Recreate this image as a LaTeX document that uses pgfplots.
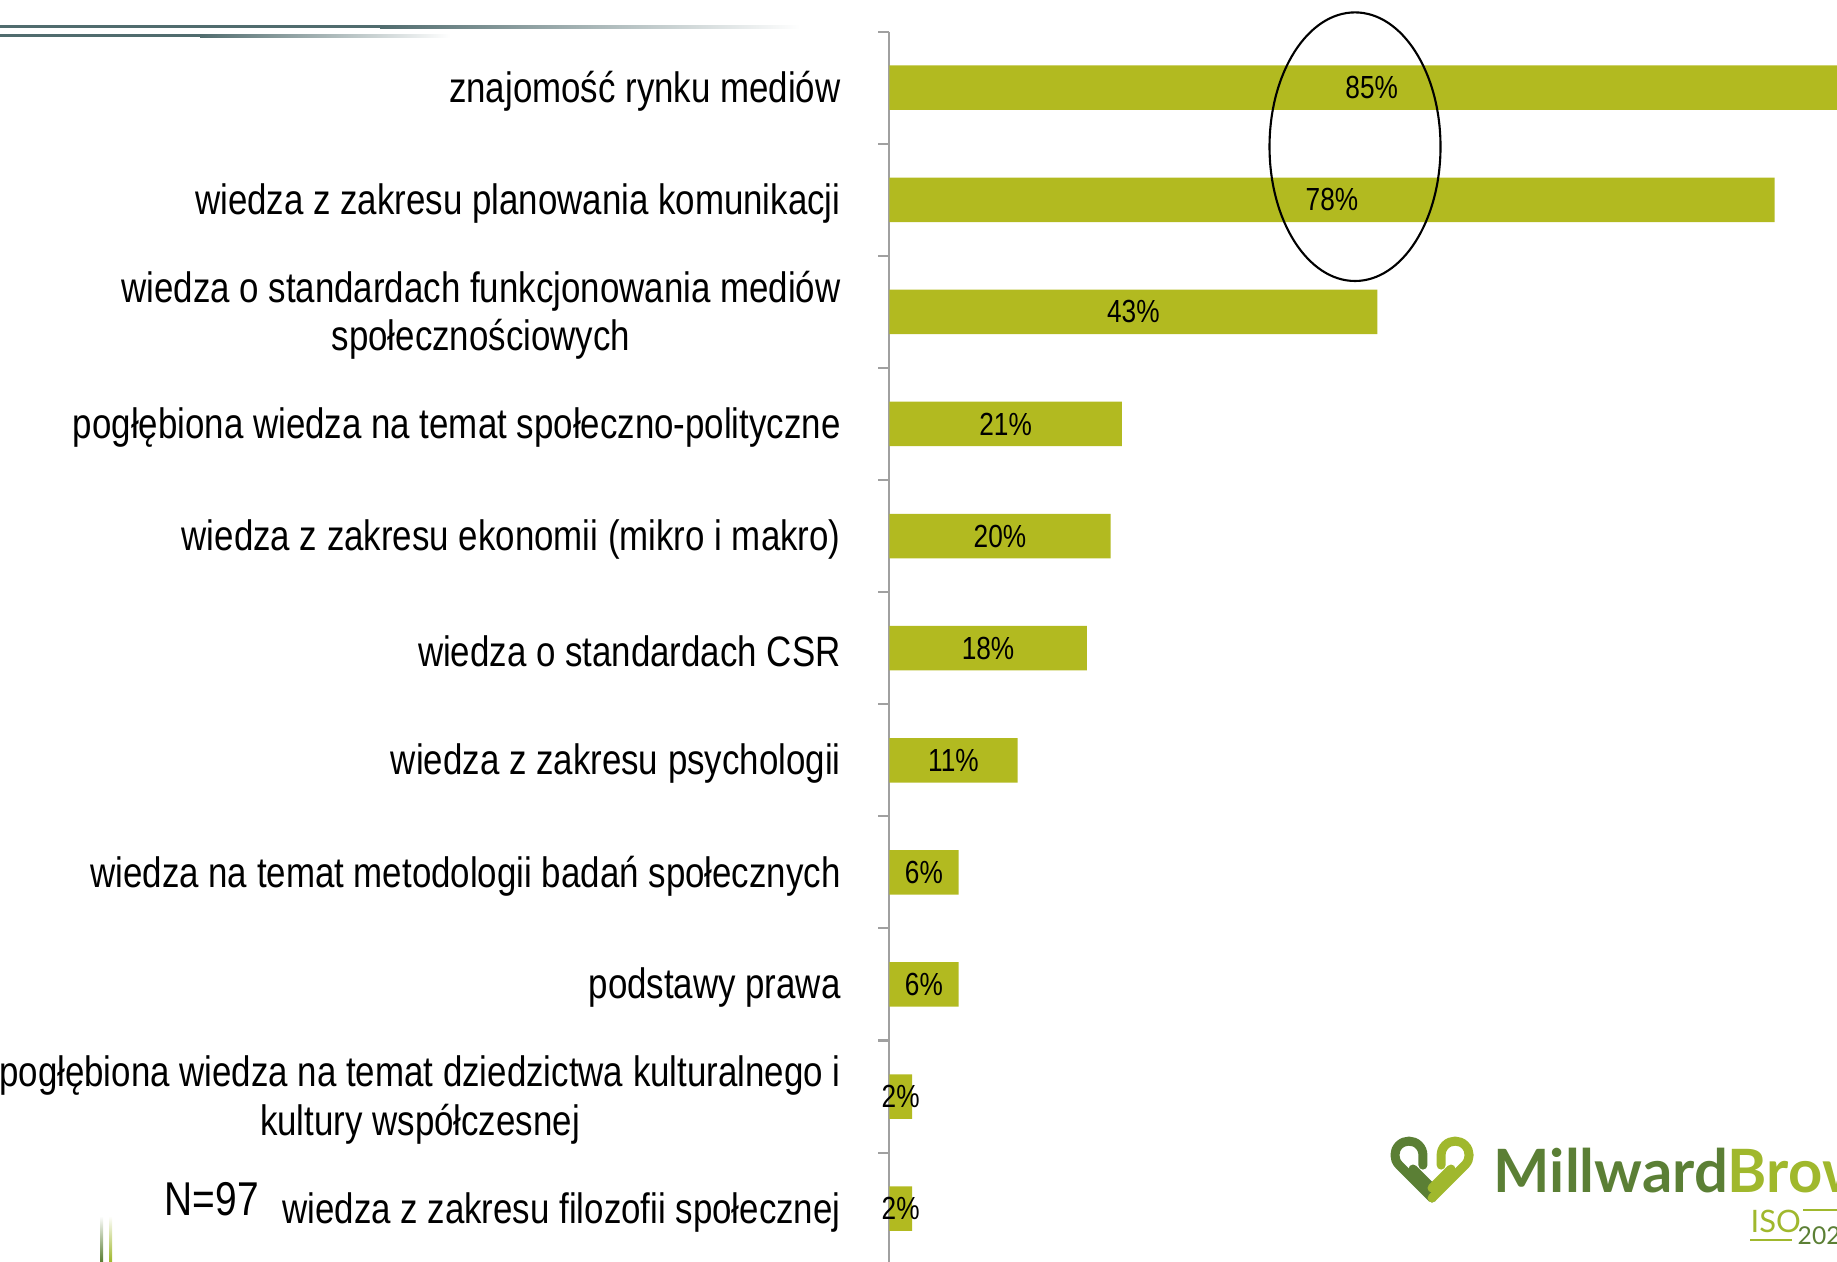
\documentclass[border=0pt]{standalone}
\usepackage{pgfplots}
\usepackage{pgfplotstable}
\pgfplotsset{compat=1.18}
\usepackage{fontspec}
\setmainfont{Liberation Sans}
\IfFontExistsTF{Liberation Sans Narrow}{\newfontfamily\narrowfont{Liberation Sans Narrow}}{\newfontfamily\narrowfont{Liberation Sans}[FakeStretch=0.82]}
\newfontfamily\logofont{Lato}
\definecolor{barcol}{RGB}{178,186,32}
\definecolor{slate}{RGB}{80,108,110}
\definecolor{logodark}{RGB}{91,127,53}
\definecolor{logolight}{RGB}{160,184,45}
\definecolor{axisgray}{RGB}{160,160,160}

\pgfplotstableread{
idx len lab
0 85 85
1 78 78
2 43 43
3 20.5 21
4 19.5 20
5 17.4 18
6 11.3 11
7 6.1 6
8 6.1 6
9 2 2
10 2 2
}\datatable

\begin{document}
\begin{tikzpicture}
\begin{scope}
\clip (0,0) rectangle (18.37,12.61);
% decorative top lines
\fill[slate] (0,12.325) rectangle (3.8,12.355);
\shade[left color=slate, right color=white] (3.8,12.325) rectangle (8.0,12.355);
\fill[slate] (0,12.235) rectangle (2.0,12.265);
\shade[left color=slate, right color=white] (2.0,12.235) rectangle (4.5,12.265);
% bottom-left small lines
\shade[top color=white, bottom color=logodark] (1.00,0) rectangle (1.03,0.45);
\shade[top color=white, bottom color=logolight] (1.09,0) rectangle (1.12,0.45);

\begin{axis}[
  at={(8.893cm,-0.037cm)}, anchor=south west,
  scale only axis, width=9.477cm, height=12.331cm,
  xmin=0, xmax=83.5, ymin=-0.5, ymax=10.5, y dir=reverse,
  bar width=0.445cm,
  axis x line=none, axis y line*=left,
  ytick={-0.5,0.5,...,10.5},
  y tick label as interval,
  yticklabels={
    {znajomość rynku mediów},
    {wiedza z zakresu planowania komunikacji},
    {wiedza o standardach funkcjonowania mediów\\społecznościowych},
    {pogłębiona wiedza na temat społeczno-polityczne},
    {wiedza z zakresu ekonomii (mikro i makro)},
    {wiedza o standardach CSR},
    {wiedza z zakresu psychologii},
    {wiedza na temat metodologii badań społecznych},
    {podstawy prawa},
    {pogłębiona wiedza na temat dziedzictwa kulturalnego i\\kultury współczesnej},
    {wiedza z zakresu filozofii społecznej},
    {}},
  tick align=outside, major tick length=0.11cm,
  y axis line style={axisgray, line width=0.6pt},
  tick style={axisgray, line width=0.6pt},
  yticklabel style={font=\narrowfont\fontsize{12.1}{13.7}\selectfont, align=center, inner sep=0pt, xshift=-0.37cm, yshift=-0.035cm, text=black},
  clip=false,
]
\addplot[xbar, fill=barcol, draw=none] table[x=len, y=idx]{\datatable};
\addplot[draw=none, mark=none,
  /pgf/number format/assume math mode=true,
  nodes near coords={\pgfmathprintnumber{\pgfplotspointmeta}\%},
  point meta=explicit,
  every node near coord/.append style={anchor=center, inner sep=0pt, text=black, font=\narrowfont\fontsize{9.1}{10}\selectfont}]
  table[x expr=\thisrow{len}/2, y=idx, meta=lab]{\datatable};
\end{axis}

% highlight ellipse
\draw[line width=0.6pt] (13.55,11.143) ellipse [x radius=0.855cm, y radius=1.343cm];

% sample size
\node[anchor=base west, inner sep=0pt, font=\narrowfont\fontsize{13.5}{14}\selectfont] at (1.64,0.46) {N=97};

% logo
\draw[logodark, line width=0.09cm, line cap=round, line join=round] (14.32,0.63) -- (13.99,0.96) arc[start angle=225, end angle=0, radius=0.14] -- ++(0,-0.10);
\draw[logodark, line width=0.09cm, line cap=round] (14.13,0.92) -- (14.32,0.73);
\draw[logolight, line width=0.09cm, line cap=round, line join=round] (14.32,0.63) -- (14.65,0.96) arc[start angle=-45, end angle=180, radius=0.14] -- ++(0,-0.10);
\draw[logolight, line width=0.09cm, line cap=round] (14.51,0.92) -- (14.32,0.73);
\node[anchor=base west, inner sep=0pt, font=\logofont\bfseries\fontsize{17}{17}\selectfont] at (14.93,0.69) {\textcolor{logodark}{Millward}\textcolor{logolight}{Brown}};
\node[anchor=base west, inner sep=0pt, font=\logofont\fontsize{8.8}{9}\selectfont, text=logolight] at (17.50,0.29) {ISO};
\node[anchor=base west, inner sep=0pt, font=\logofont\fontsize{7}{7}\selectfont, text=logodark] at (17.97,0.17) {2020};
\draw[logolight, line width=0.35pt] (18.03,0.51) -- (18.37,0.51);
\draw[logolight, line width=0.35pt] (17.50,0.21) -- (17.92,0.21);
\end{scope}
\pgfresetboundingbox
\useasboundingbox (0,0) rectangle (18.37,12.61);
\end{tikzpicture}
\end{document}
